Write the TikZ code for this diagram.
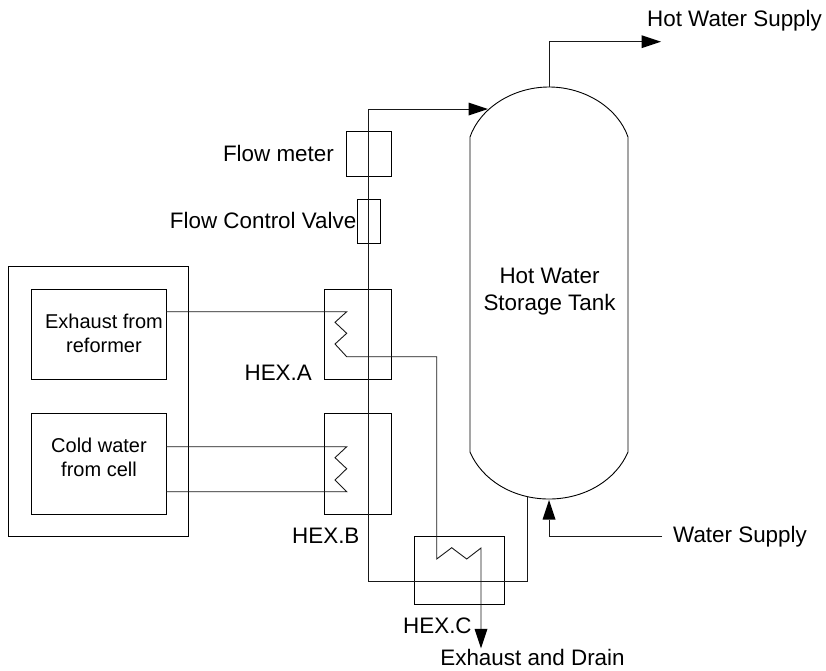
\documentclass[tikz,border=0pt]{standalone}
\usepackage{fontspec}
\setmainfont{Liberation Sans}
\usetikzlibrary{arrows.meta}
\tikzset{
 x=1pt,y=-1pt,
 box/.style={draw=black,line width=0.9pt,fill=none,inner sep=0pt,outer sep=0pt},
 lbl/.style={inner sep=0pt,font=\fontsize{22.4pt}{27pt}\selectfont,anchor=base},
 small/.style={inner sep=0pt,font=\fontsize{20pt}{24pt}\selectfont,anchor=base},
 pipe/.style={draw=black!90,line width=0.9pt},
 flow/.style={pipe,-{Triangle[length=19.5pt,width=13pt,color=black,fill=black,line width=0pt]}}
}
\newcommand{\boxat}[5]{\node[box,minimum width=#4pt,minimum height=#5pt] (#1) at (#2,#3) {};}
\begin{document}
\begin{tikzpicture}[line join=miter]
\useasboundingbox (0,0) rectangle (826,670);
\boxat{outer}{98}{401.5}{180}{270}
\boxat{reformer}{98.5}{334.2}{135}{89.5}
\boxat{cell}{98.5}{463.5}{135}{101}
\boxat{hexa}{357.7}{334.2}{67.5}{89.5}
\boxat{hexb}{357.7}{463.5}{67.5}{101}
\boxat{hexc}{459}{570.4}{90}{67.4}
\boxat{meter}{368.9}{153.8}{45}{44.6}
\boxat{valve}{369}{221.6}{22.5}{44.6}
% tank
\draw[box] (470,137) .. controls (480,108) and (513,87) .. (549,87) .. controls (585,87) and (618,108) .. (628,137)
  -- (628,452) .. controls (616,480) and (585,499) .. (549,499) .. controls (513,499) and (482,480) .. (470,452) -- cycle;
\coordinate (tanktop) at (549,87);
\coordinate (tankin) at (488,109);
\coordinate (tankout) at (527,497);
\coordinate (tankwater) at (549,500);
\coordinate (hotend) at (661,41.7);
\coordinate (waterstart) at (662,536);
\coordinate (drain) at (481,648.3);
% circulation line
\coordinate (c1) at (368.7,581.7);
\coordinate (c2) at (527,581.7);
\coordinate (c3) at (368.7,109);
\draw[flow] (tankout) -- (c2) -- (c1) -- (c3) -- (tankin);
% supplies
\coordinate (h1) at (549,41.7);
\draw[flow] (tanktop) -- (h1) -- (hotend);
\coordinate (w1) at (549,536);
\draw[flow] (waterstart) -- (w1) -- (tankwater);
% HEX A coil and exhaust
\coordinate (ra) at (166,311.7);
\draw[flow] (ra) -- (346.7,311.7) -- (335,322.3) -- (346.7,333.3) -- (335,344) -- (346.7,356.7)
  -- (436.7,356.7) -- (436.7,559) -- (451.7,547.7) -- (466.7,559) -- (481,548) -- (drain);
% HEX B coil
\coordinate (rb1) at (166,446.7);
\coordinate (rb2) at (166,491.7);
\draw[pipe] (rb1) -- (346.7,446.7) -- (335,457.7) -- (346.7,468.7) -- (335,480) -- (346.7,491.7) -- (rb2);
% labels
\node[lbl] (t1) at (734.5,26) {Hot Water Supply};
\node[lbl,anchor=base east] (t2) at (334,161) {Flow meter};
\node[lbl,anchor=base east] (t3) at (356.5,228) {Flow Control Valve};
\node[lbl] (t4a) at (549.5,283) {Hot Water};
\node[lbl] (t4b) at (549.5,310) {Storage Tank};
\node[small] (t5a) at (104,328) {Exhaust from};
\node[small] (t5b) at (104,352) {reformer};
\node[small] (t6a) at (99,452) {Cold water};
\node[small] (t6b) at (99,476) {from cell};
\node[lbl,anchor=base east] (t7) at (312,380) {HEX.A};
\node[lbl,anchor=base west] (t8) at (292,543) {HEX.B};
\node[lbl,anchor=base west] (t9) at (403,633) {HEX.C};
\node[lbl,anchor=base west] (t10) at (673,542) {Water Supply};
\node[lbl] (t11) at (532.5,665.5) {Exhaust and Drain};
\end{tikzpicture}
\end{document}
